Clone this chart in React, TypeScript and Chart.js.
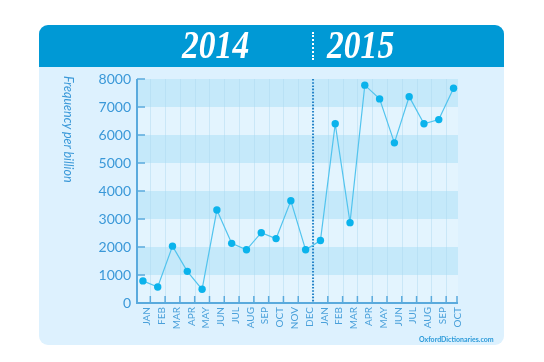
import React, { useEffect, useRef } from "react";
import { Chart, registerables } from "chart.js";

Chart.register(...registerables);

const months2014 = ["JAN", "FEB", "MAR", "APR", "MAY", "JUN", "JUL", "AUG", "SEP", "OCT", "NOV", "DEC"];
const months2015 = ["JAN", "FEB", "MAR", "APR", "MAY", "JUN", "JUL", "AUG", "SEP", "OCT"];
const values2014 = [790, 570, 2030, 1130, 490, 3320, 2130, 1900, 2510, 2300, 3650, 1900];
const values2015 = [2230, 6400, 2870, 7780, 7290, 5720, 7370, 6400, 6550, 7670];
const yTicks = [0, 1000, 2000, 3000, 4000, 5000, 6000, 7000, 8000];
const yearLabels = ["2014", "2015"];

const monthLabels = [...months2014, ...months2015];
const allValues = [...values2014, ...values2015];

const BLUE_TEXT = "#3a98d8";
const AXIS = "#5aaadd";

const decorPlugin = {
  id: "decor",
  beforeDatasetsDraw(chart: any) {
    const { ctx, chartArea, scales } = chart;
    const xs = scales.x;
    const ys = scales.y;
    const { left, right, top, bottom } = chartArea;
    ctx.save();
    for (let i = 0; i < yTicks.length - 1; i++) {
      const y0 = ys.getPixelForValue(yTicks[i]);
      const y1 = ys.getPixelForValue(yTicks[i + 1]);
      ctx.fillStyle = i % 2 === 1 ? "#c5e9fa" : "#e3f4fe";
      ctx.fillRect(left, y1, right - left, y0 - y1);
    }
    ctx.strokeStyle = "rgba(170,215,240,0.45)";
    ctx.lineWidth = 1;
    const splitIndex = months2014.length - 0.5;
    for (let k = 0; k < monthLabels.length - 1; k++) {
      const v = k + 0.5;
      if (v === splitIndex) continue;
      const x = Math.round(xs.getPixelForValue(v)) + 0.5;
      ctx.beginPath();
      ctx.moveTo(x, top);
      ctx.lineTo(x, bottom);
      ctx.stroke();
    }
    ctx.strokeStyle = AXIS;
    ctx.lineWidth = 2;
    ctx.beginPath();
    ctx.moveTo(left, top);
    ctx.lineTo(left, bottom);
    ctx.lineTo(right, bottom);
    ctx.stroke();
    ctx.lineWidth = 1.5;
    yTicks.forEach((t) => {
      if (t === 0) return;
      const y = ys.getPixelForValue(t);
      ctx.beginPath();
      ctx.moveTo(left, y);
      ctx.lineTo(left + 8, y);
      ctx.stroke();
    });
    for (let k = 0; k < monthLabels.length; k++) {
      const v = k + 0.5;
      if (v === splitIndex) continue;
      const x = k === monthLabels.length - 1 ? right - 1 : xs.getPixelForValue(v);
      ctx.beginPath();
      ctx.moveTo(x, bottom);
      ctx.lineTo(x, bottom - 7);
      ctx.stroke();
    }
    const sx = xs.getPixelForValue(splitIndex);
    ctx.strokeStyle = "#2483c8";
    ctx.lineWidth = 2;
    ctx.setLineDash([1.6, 1.6]);
    ctx.beginPath();
    ctx.moveTo(sx, top);
    ctx.lineTo(sx, bottom);
    ctx.stroke();
    ctx.restore();
  },
};

export default function App() {
  const canvasRef = useRef<HTMLCanvasElement | null>(null);

  useEffect(() => {
    if (!canvasRef.current) return;
    const chart = new Chart(canvasRef.current, {
      type: "line",
      data: {
        datasets: [
          {
            data: allValues.map((y, i) => ({ x: i, y })),
            borderColor: "#52c4ee",
            borderWidth: 1.2,
            pointBackgroundColor: "#0bb3ec",
            pointBorderColor: "#0bb3ec",
            pointRadius: 3.7,
            pointBorderWidth: 0,
            tension: 0,
          },
        ],
      },
      options: {
        responsive: false,
        animation: false,
        events: [],
        layout: { padding: { left: 0, right: 86, top: 79, bottom: 19 } },
        plugins: { legend: { display: false }, tooltip: { enabled: false } },
        scales: {
          x: {
            type: "linear",
            min: -0.4,
            max: 21.3,
            afterBuildTicks: (scale: any) => {
              scale.ticks = monthLabels.map((_, i) => ({ value: i }));
            },
            afterFit: (scale: any) => {
              scale.height = 40;
            },
            grid: { display: false, drawTicks: false },
            border: { display: false },
            ticks: {
              autoSkip: false,
              minRotation: 90,
              maxRotation: 90,
              padding: 4,
              labelOffset: 4,
              color: "#4aa0da",
              font: { family: "Lato", size: 10 },
              callback: (value: any) => monthLabels[value as number] ?? "",
            },
          },
          y: {
            min: 0,
            max: 8000,
            afterBuildTicks: (scale: any) => {
              scale.ticks = yTicks.map((v) => ({ value: v }));
            },
            afterFit: (scale: any) => {
              scale.width = 137;
            },
            grid: { display: false, drawTicks: false },
            border: { display: false },
            ticks: {
              padding: 6,
              color: BLUE_TEXT,
              font: { family: "Lato", size: 14 },
              callback: (value: any) => String(value),
            },
          },
        },
      },
      plugins: [decorPlugin],
    });
    return () => chart.destroy();
  }, []);

  const yearStyle: React.CSSProperties = {
    position: "absolute",
    top: 25,
    fontFamily: "'Liberation Serif', serif",
    fontStyle: "italic",
    fontWeight: "bold",
    fontSize: 40,
    lineHeight: "40px",
    color: "#ffffff",
    transform: "scaleX(0.84)",
    transformOrigin: "left top",
    whiteSpace: "nowrap",
  };

  return (
    <div
      style={{
        position: "absolute",
        left: 0,
        top: 0,
        width: 544,
        height: 362,
        background: "#ffffff",
        overflow: "hidden",
      }}
    >
      <div
        style={{
          position: "absolute",
          left: 39,
          top: 25,
          width: 465,
          height: 320,
          borderRadius: 9,
          background: "#ddf1fe",
          overflow: "hidden",
        }}
      >
        <div style={{ position: "absolute", left: 0, top: 0, width: 465, height: 42, background: "#0099d5" }} />
      </div>
      <canvas ref={canvasRef} width={544} height={362} style={{ position: "absolute", left: 0, top: 0 }} />
      <span style={{ ...yearStyle, left: 182 }}>{yearLabels[0]}</span>
      <span style={{ ...yearStyle, left: 327 }}>{yearLabels[1]}</span>
      <div
        style={{
          position: "absolute",
          left: 312,
          top: 32,
          height: 28,
          width: 0,
          borderLeft: "2px dotted #ffffff",
        }}
      />
      <div
        style={{
          position: "absolute",
          left: 61,
          top: 76,
          writingMode: "vertical-rl",
          fontFamily: "Lato, sans-serif",
          fontStyle: "italic",
          fontSize: 12.5,
          lineHeight: "14px",
          color: BLUE_TEXT,
          whiteSpace: "nowrap",
        }}
      >
        Frequency per billion
      </div>
      <div
        style={{
          position: "absolute",
          left: 419,
          top: 335,
          fontFamily: "Lato, sans-serif",
          fontWeight: "bold",
          fontSize: 7,
          lineHeight: "8px",
          color: "#2b9ad9",
          whiteSpace: "nowrap",
        }}
      >
        OxfordDictionaries.com
      </div>
    </div>
  );
}
